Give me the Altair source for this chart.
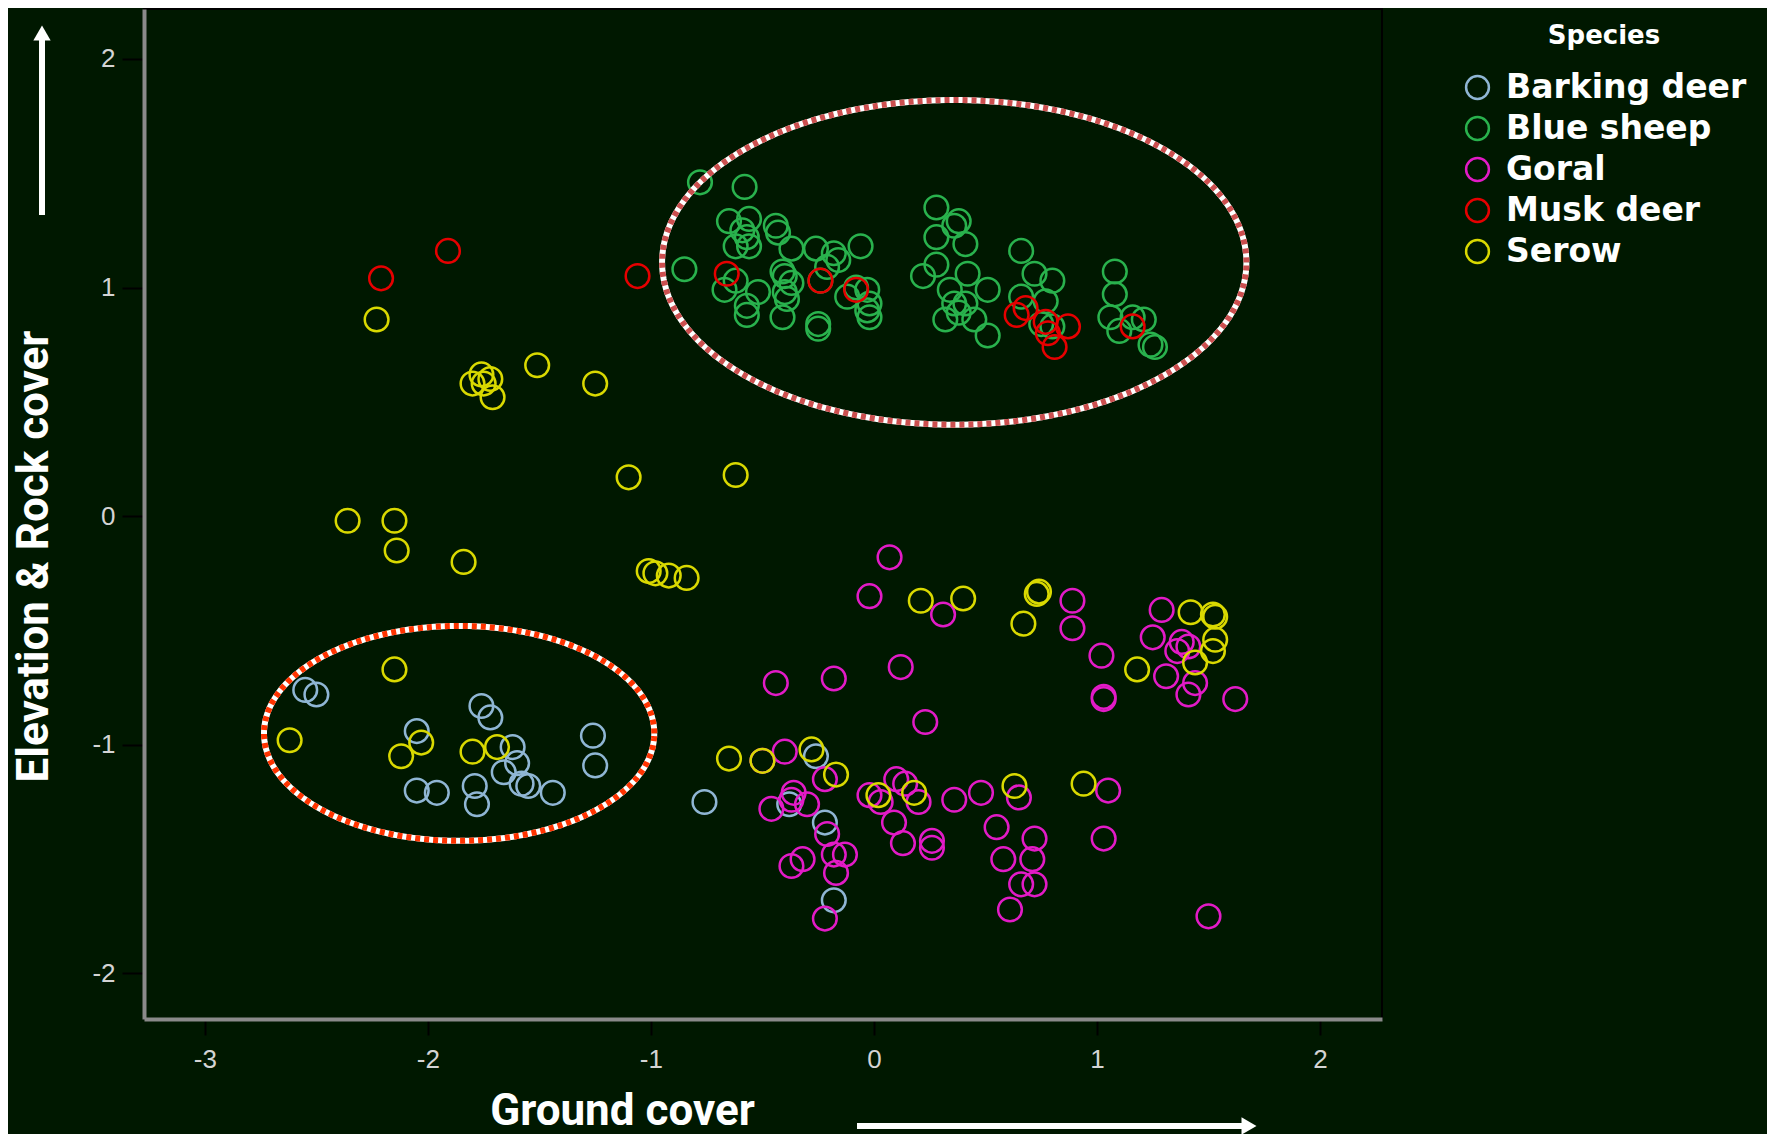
import altair as alt
import pandas as pd
import numpy as np

species_names = ["Barking deer", "Blue sheep", "Goral", "Musk deer", "Serow"]
species_colors = ["#8fb6d4", "#29b24d", "#e21bc6", "#e60000", "#d9d900"]

barking_x = [-2.55, -2.50, -1.76, -1.72, -2.05, -1.62, -1.60, -1.66, -1.26, -1.25, -2.05, -1.96,
             -1.79, -1.78, -1.58, -1.55, -1.44, -0.76, -0.26, -0.38, -0.22, -0.18]
barking_y = [-0.76, -0.78, -0.83, -0.88, -0.94, -1.01, -1.08, -1.12, -0.96, -1.09, -1.20, -1.21,
             -1.18, -1.26, -1.17, -1.18, -1.21, -1.25, -1.05, -1.26, -1.34, -1.68]

sheep_x = [-0.78, -0.58, -0.65, -0.56, -0.44, -0.43, -0.59, -0.62, -0.56, -0.57, -0.85, -0.37,
           -0.26, -0.18, -0.16, -0.06, -0.21, -0.41, -0.40, -0.37, -0.40, -0.39, -0.41, -0.67,
           -0.62, -0.52, -0.57, -0.57, -0.24, -0.25, -0.25, -0.12, -0.08, -0.03, -0.02, -0.02,
           -0.03, 0.28, 0.38, 0.36, 0.28, 0.41, 0.28, 0.22, 0.42, 0.51, 0.34, 0.36, 0.38, 0.45,
           0.51, 0.32, 0.41, 0.66, 0.72, 0.80, 0.66, 0.77, 0.75, 0.80, 1.08, 1.08, 1.06, 1.10,
           1.16, 1.21, 1.26, 1.24]
sheep_y = [1.46, 1.44, 1.29, 1.30, 1.27, 1.24, 1.25, 1.18, 1.18, 1.22, 1.08, 1.17,
           1.17, 1.15, 1.12, 1.18, 1.09, 1.07, 1.05, 1.02, 0.98, 0.95, 0.87, 0.99,
           1.03, 0.98, 0.92, 0.88, 1.03, 0.84, 0.82, 0.96, 1.00, 0.99, 0.93, 0.87,
           0.90, 1.35, 1.29, 1.27, 1.22, 1.19, 1.10, 1.05, 1.06, 0.99, 0.99, 0.93, 0.89, 0.86,
           0.79, 0.86, 0.93, 1.16, 1.06, 1.03, 0.96, 0.94, 0.84, 0.83, 1.07, 0.97, 0.87, 0.81,
           0.87, 0.86, 0.74, 0.75]

goral_x = [0.07, -0.02, 0.31, 0.89, 0.89, 1.29, 1.25, 1.38, 1.36, 1.41, 1.02, 1.03, 1.03, 1.31,
           1.44, 1.41, 1.62, 0.12, -0.44, -0.18, 0.23, -0.40, -0.50, -0.22, -0.36, -0.46, -0.30,
           -0.37, -0.21, -0.32, -0.37, -0.18, -0.13, -0.17, -0.22, -0.02, 0.10, 0.14, 0.03, 0.20,
           0.09, 0.13, 0.26, 0.26, 0.36, 0.48, 0.65, 1.05, 0.55, 0.72, 0.58, 0.71, 0.66, 0.72,
           0.61, 1.03, 1.50]
goral_y = [-0.18, -0.35, -0.43, -0.37, -0.49, -0.41, -0.53, -0.55, -0.59, -0.57, -0.61, -0.80,
           -0.79, -0.70, -0.73, -0.78, -0.80, -0.66, -0.73, -0.71, -0.90, -1.03, -1.07, -1.15,
           -1.21, -1.28, -1.26, -1.24, -1.39, -1.50, -1.53, -1.48, -1.48, -1.56, -1.76, -1.22,
           -1.15, -1.17, -1.25, -1.25, -1.34, -1.43, -1.42, -1.45, -1.24, -1.21, -1.23, -1.20,
           -1.36, -1.41, -1.50, -1.50, -1.61, -1.61, -1.72, -1.41, -1.75]

musk_x = [-2.21, -1.91, -1.06, -0.66, -0.24, -0.08, 0.64, 0.68, 0.77, 0.87, 0.78, 0.81, 1.16]
musk_y = [1.04, 1.16, 1.05, 1.06, 1.03, 0.99, 0.88, 0.91, 0.85, 0.83, 0.80, 0.74, 0.83]

serow_x = [-2.23, -1.76, -1.72, -1.80, -1.75, -1.71, -1.51, -1.25, -1.10, -0.62, -2.36, -2.15,
           -2.14, -1.84, -1.01, -0.98, -0.92, -0.84, -2.15, -2.62, -2.03, -2.12, -1.80, -1.69,
           0.21, 0.40, 0.73, 0.74, 0.67, 1.42, 1.52, 1.53, 1.53, 1.52, 1.44, 1.18, -0.65, -0.50,
           -0.28, -0.17, 0.02, 0.18, 0.63, 0.94]
serow_y = [0.86, 0.62, 0.60, 0.58, 0.58, 0.52, 0.66, 0.58, 0.17, 0.18, -0.02, -0.02,
           -0.15, -0.20, -0.24, -0.25, -0.26, -0.27, -0.67, -0.98, -0.99, -1.05, -1.03, -1.01,
           -0.37, -0.36, -0.34, -0.33, -0.47, -0.42, -0.43, -0.44, -0.54, -0.59, -0.64, -0.67,
           -1.06, -1.07, -1.02, -1.13, -1.22, -1.21, -1.18, -1.17]

x_ticks = [-3, -2, -1, 0, 1, 2]
y_ticks = [-2, -1, 0, 1, 2]

# annotation ellipses: centre x, centre y, radius x, radius y (data units), stripe colour
ellipse_params = [(0.36, 1.11, 1.31, 0.71, "#cc4f4f"), (-1.86, -0.95, 0.875, 0.47, "#ff3300")]

rows = []
for name, xs, ys in [("Barking deer", barking_x, barking_y), ("Blue sheep", sheep_x, sheep_y),
                     ("Goral", goral_x, goral_y), ("Musk deer", musk_x, musk_y),
                     ("Serow", serow_x, serow_y)]:
    for xv, yv in zip(xs, ys):
        rows.append({"species": name, "x": xv, "y": yv})
df = pd.DataFrame(rows)

x_scale = alt.Scale(domain=[-3.273, 2.278], nice=False, zero=False)
y_scale = alt.Scale(domain=[-2.199, 2.218], nice=False, zero=False)

x_axis = alt.Axis(values=x_ticks, labelExpr="datum.value + ''", grid=False,
                  labelColor="#d4d4d4", labelFont="Liberation Sans", labelFontSize=26,
                  labelPadding=11, tickColor="#000000", tickSize=16, tickWidth=2,
                  domainColor="#8a8a8a", domainWidth=4,
                  title="Ground cover", titleColor="#ffffff", titleFont="Roboto",
                  titleFontWeight="bold", titleFontSize=44, titleX=478, titleY=105,
                  titleAlign="center", titleBaseline="alphabetic")
y_axis = alt.Axis(values=y_ticks, labelExpr="datum.value + ''", grid=False,
                  labelColor="#d4d4d4", labelFont="Liberation Sans", labelFontSize=26,
                  labelPadding=7, tickColor="#000000", tickSize=22, tickWidth=2,
                  domainColor="#8a8a8a", domainWidth=4,
                  title="Elevation & Rock cover", titleColor="#ffffff",
                  titleFont="Roboto", titleFontWeight="bold", titleFontSize=44,
                  titleAngle=270, titleX=-110, titleY=547, titleAlign="center",
                  titleBaseline="middle")

legend = alt.Legend(title="Species", orient="none", legendX=1317, legendY=14, padding=0,
                    titleColor="#ffffff", titleFont="DejaVu Sans", titleFontWeight="bold",
                    titleFontSize=26, titleAnchor="middle", titlePadding=22,
                    labelColor="#ffffff", labelFont="DejaVu Sans", labelFontWeight="bold",
                    labelFontSize=33, labelOffset=12, labelLimit=0, rowPadding=7,
                    symbolType="circle", symbolSize=520, symbolStrokeWidth=2.5,
                    symbolFillColor="transparent")

points = alt.Chart(df).mark_point(shape="circle", filled=False, size=560, strokeWidth=2.5,
                                  opacity=1).encode(
    x=alt.X("x:Q", scale=x_scale, axis=x_axis),
    y=alt.Y("y:Q", scale=y_scale, axis=y_axis),
    color=alt.Color("species:N", scale=alt.Scale(domain=species_names, range=species_colors),
                    legend=legend),
)

ell_layers = []
t = np.linspace(0, 2 * np.pi, 241)
for cx, cy, rx, ry, dash_col in ellipse_params:
    edf = pd.DataFrame({"ex": cx + rx * np.cos(t), "ey": cy + ry * np.sin(t), "k": np.arange(len(t))})
    base = alt.Chart(edf).encode(
        x=alt.X("ex:Q", scale=x_scale), y=alt.Y("ey:Q", scale=y_scale), order="k:Q")
    ell_layers.append(base.mark_line(color="#ffffff", strokeWidth=6))
    ell_layers.append(base.mark_line(color=dash_col, strokeWidth=6, strokeDash=[5, 4]))

one = pd.DataFrame({"a": [0]})
v_shaft = alt.Chart(one).mark_rule(color="#ffffff", strokeWidth=6).encode(
    x=alt.value(-102), y=alt.value(206), y2=alt.value(28))
v_head = alt.Chart(one).mark_point(shape="triangle-up", filled=True, color="#ffffff",
                                    size=300, opacity=1).encode(x=alt.value(-102), y=alt.value(24))
h_shaft = alt.Chart(one).mark_rule(color="#ffffff", strokeWidth=6).encode(
    x=alt.value(713), x2=alt.value(1100), y=alt.value(1117))
h_head = alt.Chart(one).mark_point(shape="triangle-right", filled=True, color="#ffffff",
                                    size=300, opacity=1).encode(x=alt.value(1105), y=alt.value(1117))

chart = alt.layer(points, *ell_layers, v_shaft, v_head, h_shaft, h_head).properties(
    width=1238, height=1010,
    autosize=alt.AutoSizeParams(type="none"),
    padding={"left": 136, "top": 1, "right": 385, "bottom": 115},
    background="#001800",
).configure_view(stroke="#000000", strokeWidth=2)

chart.save("out.html", embed_options={"renderer": "svg", "actions": False})
